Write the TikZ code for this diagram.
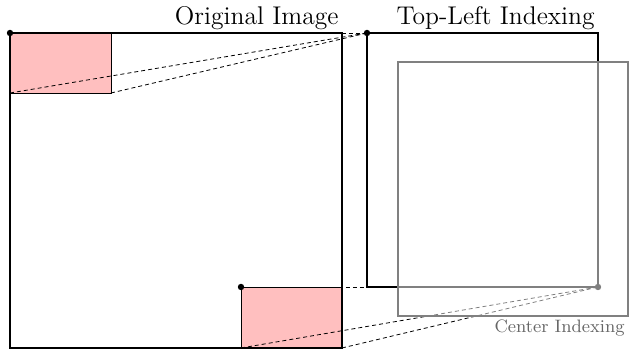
\documentclass[tikz,border=0pt]{standalone}
\usetikzlibrary{calc}
\begin{document}
\begin{tikzpicture}[x=0.5pt,y=-0.5pt,
  imgbox/.style={draw=black,line width=0.7pt},
  patch/.style={fill=red!25,draw=black,line width=0.35pt},
  link/.style={draw=black,line width=0.4pt,dash pattern=on 2pt off 1.5pt},
  dotmark/.style={circle,fill=black,inner sep=0pt,minimum size=3.2pt},
  ctrbox/.style={draw=black!50,line width=0.7pt,fill=white,fill opacity=0.5},
  lbl/.style={font=\fontsize{12.8}{15}\selectfont,inner sep=1.5pt}]
\useasboundingbox (0,0) rectangle (629,351);
% corners
\coordinate (oTL) at (10,33);
\coordinate (oBR) at (342,348);
\coordinate (p1BR) at (111,93);
\coordinate (p1BL) at (10,93);
\coordinate (p1TR) at (111,33);
\coordinate (p2TL) at (241,287);
\coordinate (p2BL) at (241,348);
\coordinate (p2BR) at (342,348);
\coordinate (tTL) at (367,33);
\coordinate (tBR) at (598,287);
\coordinate (tBL) at (367,287);
\coordinate (cTL) at (398,62);
\coordinate (cBR) at (628,316);
% patches and image
\draw[patch] (oTL) rectangle (p1BR);
\draw[patch] (p2TL) rectangle (p2BR);
\draw[imgbox] (oTL) rectangle (oBR);
\node[lbl,anchor=south east] (origlbl) at (oTL -| oBR) {Original Image};
% dashed connectors
\draw[link] (p1BL) -- (tTL);
\draw[link] (p1BR) -- (tTL);
\draw[link] (p1TR) -- (tTL);
\draw[link] (p2TL) -- (tBL);
\draw[link] (p2BL) -- (tBR);
\draw[link] (p2BR) -- (tBR);
% top-left indexing
\draw[imgbox] (tTL) rectangle (tBR);
\node[lbl,anchor=south east] (tllbl) at (tTL -| tBR) {Top-Left Indexing};
% center indexing
\draw[ctrbox] (cTL) rectangle (cBR);
\node[font=\small,text=black!60,anchor=north east,inner sep=1.5pt] (ctrlbl) at (cBR) {Center Indexing};
% dots
\node[dotmark] (d1) at (oTL) {};
\node[dotmark] (d2) at (tTL) {};
\node[dotmark] (d3) at (p2TL) {};
\node[dotmark,fill=black!50] (d4) at (tBR) {};
\end{tikzpicture}
\end{document}
